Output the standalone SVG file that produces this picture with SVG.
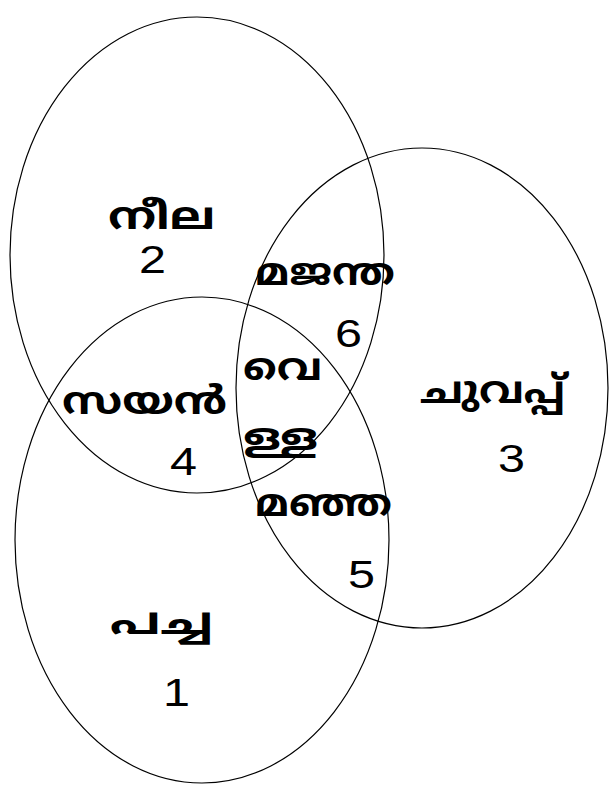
<svg xmlns="http://www.w3.org/2000/svg" width="613" height="788" viewBox="0 0 613 788">
<style>
.e{fill:none;stroke:#000;stroke-width:1.2}
.m{font-family:"Noto Sans Malayalam","Noto Sans","DejaVu Sans",sans-serif;font-size:38px;font-weight:bold;fill:#000}
.n{font-family:"Liberation Sans",Arial,sans-serif;font-size:38px;fill:#000}
</style>
<rect width="613" height="788" fill="#fff"/>
<g id="blue"><ellipse class="e" cx="197" cy="255" rx="187" ry="238"/></g>
<g id="red"><ellipse class="e" cx="422" cy="388" rx="186" ry="240"/></g>
<g id="green"><ellipse class="e" cx="202" cy="540" rx="187" ry="243"/></g>
<g id="labels">
<text class="m" x="108" y="229" textLength="107" lengthAdjust="spacingAndGlyphs">നീല</text>
<text class="n" x="139" y="273" textLength="27" lengthAdjust="spacingAndGlyphs">2</text>
<text class="m" x="255" y="285" textLength="140" lengthAdjust="spacingAndGlyphs">മജന്ത</text>
<text class="n" x="335" y="347" textLength="27" lengthAdjust="spacingAndGlyphs">6</text>
<text class="m" x="243" y="380" textLength="79" lengthAdjust="spacingAndGlyphs">വെ</text>
<text class="m" x="62" y="414" textLength="165" lengthAdjust="spacingAndGlyphs">സയൻ</text>
<text class="m" x="243" y="450" textLength="75" lengthAdjust="spacingAndGlyphs">ള്ള</text>
<text class="n" x="170" y="475" textLength="27" lengthAdjust="spacingAndGlyphs">4</text>
<text class="m" x="255" y="516" textLength="137" lengthAdjust="spacingAndGlyphs">മഞ്ഞ</text>
<text class="n" x="348" y="588" textLength="27" lengthAdjust="spacingAndGlyphs">5</text>
<text class="m" x="420" y="403" textLength="145" lengthAdjust="spacingAndGlyphs">ചുവപ്പ്</text>
<text class="n" x="498" y="472" textLength="27" lengthAdjust="spacingAndGlyphs">3</text>
<text class="m" x="110" y="634" textLength="103" lengthAdjust="spacingAndGlyphs">പച്ച</text>
<text class="n" x="163" y="706" textLength="27" lengthAdjust="spacingAndGlyphs">1</text>
</g>
</svg>
